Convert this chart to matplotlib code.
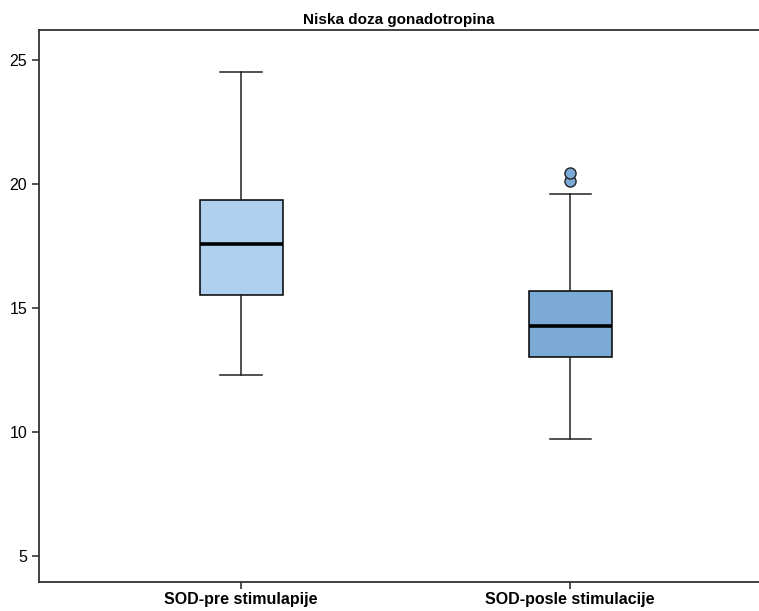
import matplotlib.pyplot as plt

plt.rcParams['font.family'] = ['Liberation Sans', 'DejaVu Sans']

labels = ['SOD-pre stimulapije', 'SOD-posle stimulacije']
whislo = [12.3, 9.7]
q1 = [15.52, 13.0]
med = [17.58, 14.27]
q3 = [19.35, 15.69]
whishi = [24.52, 19.6]
fliers = [[], [20.12, 20.44]]
colors = ['#AED0EE', '#7BAAD7']

stats = []
for i in range(len(labels)):
    stats.append(dict(label=labels[i], whislo=whislo[i], q1=q1[i], med=med[i],
                      q3=q3[i], whishi=whishi[i], fliers=fliers[i]))

fig = plt.figure(figsize=(7.59, 6.11), dpi=100)
ax = fig.add_axes([0.0514, 0.0475, 0.9486, 0.9035])

bp = ax.bxp(stats, positions=[1, 2], widths=0.252, patch_artist=True,
            boxprops=dict(edgecolor='black', linewidth=1.1),
            whiskerprops=dict(color='#222222', linewidth=1.1),
            capprops=dict(color='#222222', linewidth=1.1),
            medianprops=dict(color='black', linewidth=2.6),
            flierprops=dict(marker='o', markersize=8, markeredgecolor='#222222',
                            markerfacecolor=colors[1], markeredgewidth=1.0),
            capwidths=0.125)
for patch, c in zip(bp['boxes'], colors):
    patch.set_facecolor(c)

ax.set_xlim(0.386, 2.574)
ax.set_ylim(3.95, 26.2)
ax.set_yticks([5, 10, 15, 20, 25])
ax.set_xticks([1, 2])
ax.set_xticklabels(labels, fontweight='bold', fontsize=11.5)
ax.tick_params(axis='y', labelsize=11.5, length=5, width=1.2, color='#333333')
ax.tick_params(axis='x', length=5, width=1.2, color='#333333', pad=2)

ax.spines['right'].set_visible(False)
for s in ['left', 'top', 'bottom']:
    ax.spines[s].set_linewidth(1.3)
    ax.spines[s].set_color('#333333')

ax.set_title('Niska doza gonadotropina', fontweight='bold', fontsize=11, pad=4)

plt.savefig('out.png', dpi=100)
